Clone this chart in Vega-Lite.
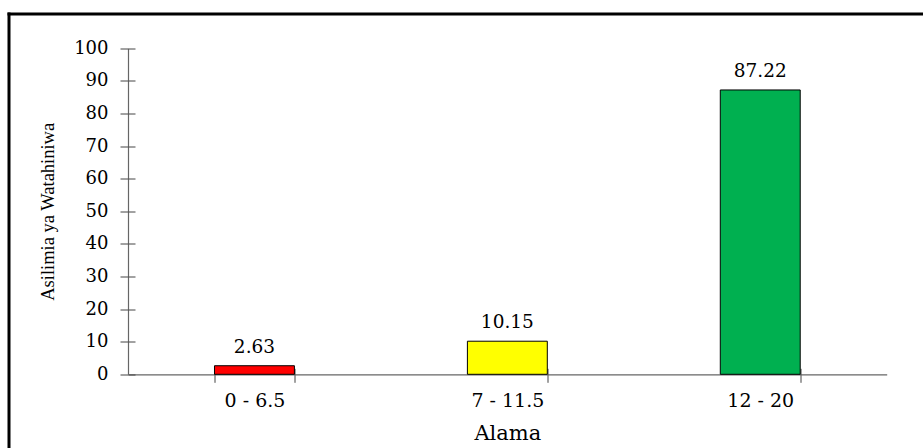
{
  "$schema": "https://vega.github.io/schema/vega-lite/v6.json",
  "autosize": "none",
  "padding": {"left": 8.5, "top": 13.5, "right": 0, "bottom": 0},
  "width": 914.5,
  "height": 434.5,
  "background": "white",
  "config": {
    "view": {"stroke": null, "fill": "white"},
    "axis": {"grid": false}
  },
  "data": {
    "values": [
      {"cat": "0 - 6.5", "pct": 2.63},
      {"cat": "7 - 11.5", "pct": 10.15},
      {"cat": "12 - 20", "pct": 87.22}
    ]
  },
  "layer": [
    {
      "mark": {"type": "bar", "stroke": "black", "strokeWidth": 1},
      "encoding": {
        "x": {
          "field": "cat",
          "type": "nominal",
          "sort": null,
          "scale": {"range": [119.5, 878.2], "paddingInner": 0.684, "paddingOuter": 0.342},
          "axis": {
            "orient": "bottom",
            "offset": -73.7,
            "title": "Alama",
            "titleFont": "DejaVu Serif",
            "titleFontSize": 21,
            "titleFontWeight": "normal",
            "titleColor": "black",
            "titleY": 65,
            "titleBaseline": "alphabetic",
            "labelFont": "DejaVu Serif",
            "labelFontSize": 19,
            "labelColor": "black",
            "labelAngle": 0,
            "labelPadding": 9,
            "tickBand": "extent",
            "tickSize": 8,
            "tickColor": "#444",
            "tickWidth": 1,
            "domainColor": "#666",
            "domainWidth": 1.2
          }
        },
        "y": {
          "field": "pct",
          "type": "quantitative",
          "scale": {"domain": [0, 100], "range": [360.8, 34.8], "nice": false, "zero": true},
          "axis": {
            "orient": "left",
            "offset": -119.5,
            "values": [0, 10, 20, 30, 40, 50, 60, 70, 80, 90, 100],
            "title": "Asilimia ya Watahiniwa",
            "titleFont": "Liberation Serif",
            "titleFontSize": 18.5,
            "titleFontWeight": "normal",
            "titleColor": "black",
            "titleX": -81,
            "titleBaseline": "middle",
            "labelFont": "DejaVu Serif",
            "labelFontSize": 18,
            "labelColor": "black",
            "labelPadding": 12,
            "tickSize": 8,
            "tickColor": "#444",
            "tickWidth": 1,
            "domainColor": "#666",
            "domainWidth": 1.2
          }
        },
        "color": {
          "field": "cat",
          "type": "nominal",
          "scale": {"domain": ["0 - 6.5", "7 - 11.5", "12 - 20"], "range": ["#FF0000", "#FFFF00", "#00B050"]},
          "legend": null
        }
      }
    },
    {
      "mark": {"type": "text", "font": "DejaVu Serif", "fontSize": 18.5, "color": "black", "baseline": "alphabetic", "dy": -13},
      "encoding": {
        "x": {
          "field": "cat",
          "type": "nominal",
          "sort": null,
          "scale": {"range": [119.5, 878.2], "paddingInner": 0.684, "paddingOuter": 0.342},
          "axis": {
            "orient": "bottom",
            "offset": -73.7,
            "title": null,
            "labels": false,
            "domain": false,
            "tickBand": "extent",
            "tickSize": -6,
            "tickColor": "#444",
            "tickWidth": 1
          }
        },
        "y": {
          "field": "pct",
          "type": "quantitative",
          "scale": {"domain": [0, 100], "range": [360.8, 34.8], "nice": false, "zero": true},
          "axis": {
            "orient": "left",
            "offset": -119.5,
            "values": [0, 10, 20, 30, 40, 50, 60, 70, 80, 90, 100],
            "title": null,
            "labels": false,
            "domain": false,
            "tickSize": -7,
            "tickColor": "#444",
            "tickWidth": 1
          }
        },
        "text": {"field": "pct", "type": "quantitative", "format": ".2f"}
      }
    },
    {
      "mark": {"type": "point", "opacity": 0},
      "encoding": {
        "x": {
          "field": "pct",
          "type": "quantitative",
          "scale": {"domain": [0, 100], "range": [0, 914.5], "nice": false},
          "axis": {
            "orient": "top",
            "offset": 0,
            "title": null,
            "labels": false,
            "ticks": false,
            "domain": true,
            "domainColor": "black",
            "domainWidth": 3,
            "domainCap": "square"
          }
        },
        "y": {
          "field": "pct",
          "type": "quantitative",
          "scale": {"domain": [0, 100], "range": [0, 434.5], "nice": false},
          "axis": {
            "orient": "left",
            "offset": 0,
            "title": null,
            "labels": false,
            "ticks": false,
            "domain": true,
            "domainColor": "black",
            "domainWidth": 3,
            "domainCap": "square"
          }
        }
      }
    }
  ],
  "resolve": {
    "scale": {"x": "independent", "y": "independent"},
    "axis": {"x": "independent", "y": "independent"}
  }
}
